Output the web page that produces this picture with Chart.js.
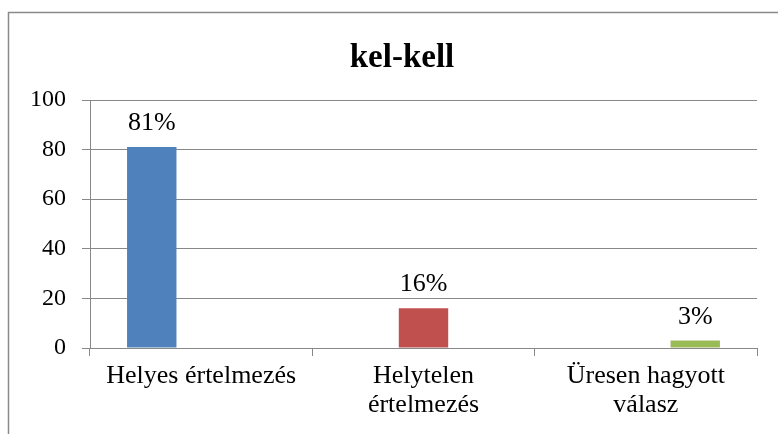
<!DOCTYPE html>
<html>
<head>
<meta charset="utf-8">
<script src="https://cdn.jsdelivr.net/npm/chart.js@4/dist/chart.umd.min.js"></script>
<style>
html,body{margin:0;padding:0;background:#fff;}
#wrap{width:778px;height:434px;position:relative;}
</style>
</head>
<body>
<div id="wrap"><canvas id="c" width="778" height="434"></canvas></div>
<script>
const title = "kel-kell";
const categories = [["Helyes értelmezés"], ["Helytelen", "értelmezés"], ["Üresen hagyott", "válasz"]];
const seriesNames = ["Helyes értelmezés", "Helytelen értelmezés", "Üresen hagyott válasz"];
const helyes = [81, null, null];
const helytelen = [null, 16, null];
const ures = [null, null, 3];
const yTicks = [0, 20, 40, 60, 80, 100];
const colors = ["#4F81BD", "#C0504D", "#9BBB59"];

const FONT = "'Liberation Serif', 'Times New Roman', serif";
const GRID = "#888888";

const framePlugin = {
  id: 'frame',
  beforeDraw(chart) {
    const ctx = chart.ctx;
    ctx.save();
    ctx.fillStyle = '#fff';
    ctx.fillRect(0, 0, chart.width, chart.height);
    ctx.strokeStyle = '#8a8a8a';
    ctx.lineWidth = 1.5;
    ctx.beginPath();
    ctx.moveTo(8.5, chart.height + 5);
    ctx.lineTo(8.5, 12.5);
    ctx.lineTo(chart.width + 5, 12.5);
    ctx.stroke();
    ctx.restore();
  },
  afterDraw(chart) {
    const ctx = chart.ctx;
    ctx.save();
    ctx.fillStyle = '#000';
    ctx.font = "bold 33px " + FONT;
    ctx.textAlign = 'center';
    ctx.textBaseline = 'alphabetic';
    ctx.fillText(title, 402, 67);
    ctx.restore();
  }
};

const labelPlugin = {
  id: 'vlabels',
  afterDatasetsDraw(chart) {
    const ctx = chart.ctx;
    ctx.save();
    ctx.fillStyle = '#000';
    ctx.font = "26px " + FONT;
    ctx.textAlign = 'center';
    ctx.textBaseline = 'alphabetic';
    chart.data.datasets.forEach((ds, di) => {
      const meta = chart.getDatasetMeta(di);
      meta.data.forEach((el, i) => {
        const v = ds.data[i];
        if (v === null || v === undefined) return;
        ctx.fillText(v + "%", el.x, el.y - 17);
      });
    });
    ctx.restore();
  }
};

new Chart(document.getElementById('c'), {
  type: 'bar',
  data: {
    labels: categories,
    datasets: [
      { label: seriesNames[0], data: helyes, backgroundColor: colors[0] },
      { label: seriesNames[1], data: helytelen, backgroundColor: colors[1] },
      { label: seriesNames[2], data: ures, backgroundColor: colors[2] }
    ]
  },
  options: {
    responsive: false,
    animation: false,
    devicePixelRatio: 1,
    categoryPercentage: 3 / 4.5,
    barPercentage: 1,
    layout: { padding: { top: 100, right: 21, left: 0, bottom: 0 } },
    plugins: { legend: { display: false }, tooltip: { enabled: false }, title: { display: false } },
    scales: {
      x: {
        grid: { display: true, offset: true, drawOnChartArea: false, drawTicks: true, tickLength: 8, color: GRID, lineWidth: 1 },
        border: { display: true, color: GRID, width: 1 },
        ticks: { color: '#000', font: { family: FONT, size: 26, lineHeight: 1.1 }, padding: 6, maxRotation: 0, autoSkip: false },
        afterFit(scale) { scale.height = 86; }
      },
      y: {
        min: 0, max: 100,
        afterBuildTicks(scale) { scale.ticks = yTicks.map(v => ({ value: v })); },
        grid: { color: GRID, lineWidth: 1, tickLength: 8, drawTicks: true },
        border: { display: true, color: GRID, width: 1 },
        ticks: { color: '#000', font: { family: FONT, size: 24 }, padding: 16 },
        afterFit(scale) { scale.width = 90; }
      }
    }
  },
  plugins: [framePlugin, labelPlugin]
});
</script>
</body>
</html>
